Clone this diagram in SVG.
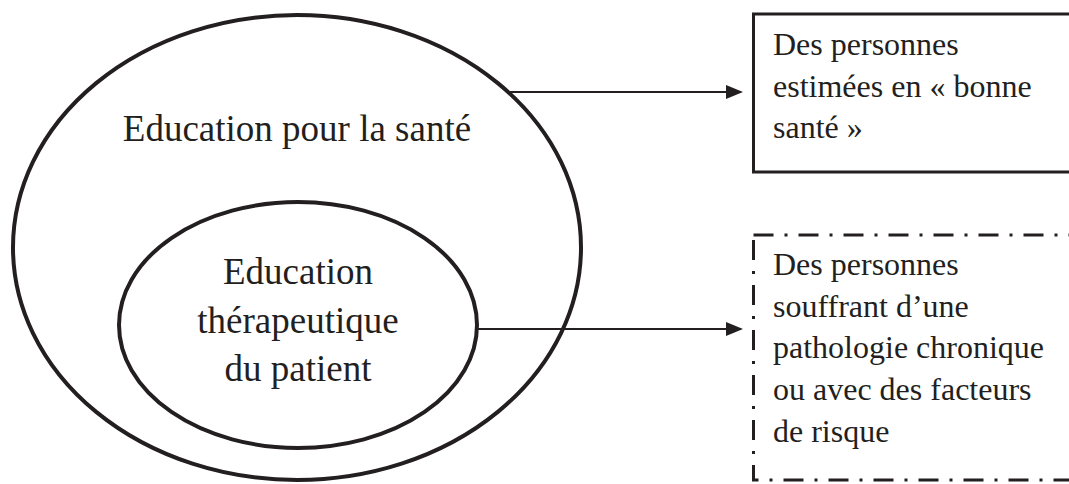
<svg xmlns="http://www.w3.org/2000/svg" width="1069" height="484" viewBox="0 0 1069 484">
<style>
.ell{fill:none;stroke:#231f20;stroke-width:4}
.box{fill:none;stroke:#231f20;stroke-width:3}
.dash{stroke-dasharray:20 11 3 11}
.con{fill:none;stroke:#231f20;stroke-width:1.8}
text{font-family:"Liberation Serif","Times New Roman",serif;font-size:32px;fill:#231f20}
.big{font-size:37px;text-anchor:middle}
</style>
<defs>
<marker id="arr" markerUnits="userSpaceOnUse" markerWidth="17" markerHeight="14" refX="15" refY="7" orient="auto">
<path d="M0,0 L17,7 L0,14 z" fill="#231f20"/>
</marker>
</defs>
<rect width="1069" height="484" fill="#ffffff"/>
<g id="outer">
<ellipse class="ell" cx="297" cy="247.5" rx="284" ry="232.5"/>
<text class="big" x="297" y="141">Education pour la santé</text>
</g>
<g id="inner">
<ellipse class="ell" cx="298" cy="325" rx="179" ry="123"/>
<text class="big" x="298" y="284">Education</text>
<text class="big" x="298" y="332.5">thérapeutique</text>
<text class="big" x="298" y="381">du patient</text>
</g>
<g id="box1">
<rect class="box" x="753.5" y="14" width="330" height="158"/>
<text x="773" y="55">Des personnes</text>
<text x="773" y="96.5">estimées en « bonne</text>
<text x="773" y="138">santé »</text>
</g>
<g id="box2">
<rect class="box dash" x="753.5" y="235" width="330" height="245"/>
<text x="773" y="275">Des personnes</text>
<text x="773" y="316.5">souffrant d’une</text>
<text x="773" y="358">pathologie chronique</text>
<text x="773" y="400">ou avec des facteurs</text>
<text x="773" y="441.5">de risque</text>
</g>
<g id="connectors">
<line class="con" x1="508" y1="92" x2="741" y2="92" marker-end="url(#arr)"/>
<line class="con" x1="477" y1="329" x2="741" y2="329" marker-end="url(#arr)"/>
</g>
</svg>
